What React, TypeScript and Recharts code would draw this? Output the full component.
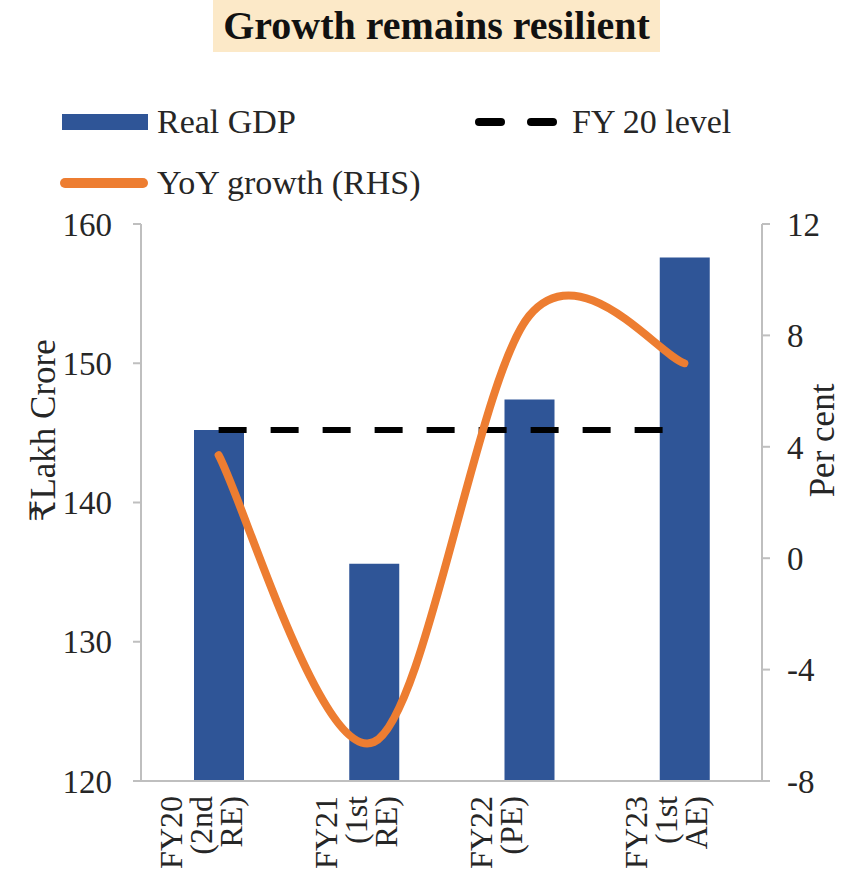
import React from "react";
import { ComposedChart, Bar, Line, XAxis, YAxis, Legend, Label } from "recharts";

const categories = ["FY20 (2nd RE)", "FY21 (1st RE)", "FY22 (PE)", "FY23 (1st AE)"];
const realGdp = [145.2, 135.6, 147.4, 157.6];
const fy20Level = [145.2, 145.2, 145.2, 145.2];
const yoyGrowth = [3.7, -6.6, 8.7, 7.0];
const leftTicks = [120, 130, 140, 150, 160];
const rightTicks = [-8, -4, 0, 4, 8, 12];

const data = categories.map((label, i) => ({
  label,
  gdp: realGdp[i],
  level: fy20Level[i],
  growth: yoyGrowth[i],
}));

const FONT = '"Liberation Serif", "DejaVu Serif", serif';
const TEXT = "#262626";
const AXIS = "#BFBFBF";
const BLUE = "#2F5597";
const ORANGE = "#ED7D31";

// Excel-style smoothed line (catmull-rom through the points)
function excelSmooth(context: any) {
  let pts: number[][] = [];
  return {
    areaStart() {},
    areaEnd() {},
    lineStart() {
      pts = [];
    },
    point(x: number, y: number) {
      pts.push([+x, +y]);
    },
    lineEnd() {
      if (!pts.length) return;
      context.moveTo(pts[0][0], pts[0][1]);
      for (let i = 0; i < pts.length - 1; i++) {
        const p0 = pts[i - 1] || pts[i];
        const p1 = pts[i];
        const p2 = pts[i + 1];
        const p3 = pts[i + 2] || p2;
        context.bezierCurveTo(
          p1[0] + (p2[0] - p0[0]) / 6,
          p1[1] + (p2[1] - p0[1]) / 6,
          p2[0] - (p3[0] - p1[0]) / 6,
          p2[1] - (p3[1] - p1[1]) / 6,
          p2[0],
          p2[1]
        );
      }
    },
  };
}

// multi-line rotated category labels
function CategoryTick({ x, y, payload }: any) {
  const lines = String(payload.value).split(" ");
  return (
    <g>
      {lines.map((ln, i) => (
        <text
          key={i}
          transform={`translate(${x - 37 + i * 30},${y}) rotate(-90)`}
          textAnchor="end"
          fontSize={32}
          fontFamily={FONT}
          fill={TEXT}
        >
          {ln}
        </text>
      ))}
    </g>
  );
}

const leftTitle = ({ viewBox }: any) => (
  <text
    transform={`translate(${viewBox.x + 43},${viewBox.y + viewBox.height / 2 - 72}) rotate(-90)`}
    textAnchor="middle"
    dominantBaseline="central"
    fontSize={35}
    fontFamily={FONT}
    fill={TEXT}
  >
    ₹Lakh Crore
  </text>
);

const rightTitle = ({ viewBox }: any) => (
  <text
    transform={`translate(${viewBox.x + 60},${viewBox.y + viewBox.height / 2 - 62}) rotate(-90)`}
    textAnchor="middle"
    dominantBaseline="central"
    fontSize={35}
    fontFamily={FONT}
    fill={TEXT}
  >
    Per cent
  </text>
);

function LegendBox() {
  const txt: React.CSSProperties = {
    position: "absolute",
    fontFamily: FONT,
    fontSize: 34,
    lineHeight: "40px",
    color: TEXT,
    whiteSpace: "nowrap",
  };
  return (
    <div style={{ position: "relative", width: 858, height: 220 }}>
      <div style={{ position: "absolute", left: 62, top: 114, width: 86, height: 16, background: BLUE }} />
      <div style={{ ...txt, left: 157, top: 102 }}>Real GDP</div>
      <div style={{ position: "absolute", left: 475, top: 118, width: 30, height: 8, borderRadius: 4, background: "#000" }} />
      <div style={{ position: "absolute", left: 527, top: 118, width: 30, height: 8, borderRadius: 4, background: "#000" }} />
      <div style={{ ...txt, left: 572, top: 102 }}>FY 20 level</div>
      <div style={{ position: "absolute", left: 60, top: 178, width: 88, height: 10, borderRadius: 5, background: ORANGE }} />
      <div style={{ ...txt, left: 157, top: 163 }}>YoY growth (RHS)</div>
    </div>
  );
}

export default function App() {
  return (
    <div style={{ position: "absolute", left: 0, top: 0, width: 858, height: 882, background: "#fff" }}>
      <div
        style={{
          position: "absolute",
          left: 213,
          top: 0,
          width: 447,
          height: 52,
          background: "#FCE9C8",
          fontFamily: FONT,
          fontWeight: "bold",
          fontSize: 40,
          lineHeight: "52px",
          textAlign: "center",
          color: "#111",
          zIndex: 2,
        }}
      >
        Growth remains resilient
      </div>
      <ComposedChart width={858} height={882} data={data} margin={{ top: 224, right: 0, bottom: 0, left: 0 }}>
        <XAxis
          dataKey="label"
          height={101}
          interval={0}
          tickLine={false}
          tickSize={0}
          tickMargin={15}
          axisLine={{ stroke: AXIS, strokeWidth: 2 }}
          tick={<CategoryTick />}
        />
        <YAxis
          yAxisId="left"
          width={141}
          domain={[120, 160]}
          ticks={leftTicks}
          tickSize={8}
          tickMargin={21}
          axisLine={{ stroke: AXIS, strokeWidth: 2 }}
          tickLine={{ stroke: AXIS, strokeWidth: 2 }}
          tick={{ fontSize: 33, fontFamily: FONT, fill: TEXT }}
        >
          <Label content={leftTitle} />
        </YAxis>
        <YAxis
          yAxisId="right"
          orientation="right"
          width={96}
          domain={[-8, 12]}
          ticks={rightTicks}
          tickSize={8}
          tickMargin={17}
          axisLine={{ stroke: AXIS, strokeWidth: 2 }}
          tickLine={{ stroke: AXIS, strokeWidth: 2 }}
          tick={{ fontSize: 33, fontFamily: FONT, fill: TEXT }}
        >
          <Label content={rightTitle} />
        </YAxis>
        <Legend
          content={<LegendBox />}
          layout="horizontal"
          verticalAlign="middle"
          align="center"
          wrapperStyle={{ top: 0, left: 0, width: 858, height: 0 }}
        />
        <Bar yAxisId="left" dataKey="gdp" name="Real GDP" fill={BLUE} barSize={50} isAnimationActive={false} />
        <Line
          yAxisId="left"
          dataKey="level"
          name="FY 20 level"
          type="linear"
          stroke="#000"
          strokeWidth={6}
          strokeDasharray="28 24"
          dot={false}
          activeDot={false}
          isAnimationActive={false}
        />
        <Line
          yAxisId="right"
          dataKey="growth"
          name="YoY growth (RHS)"
          type={excelSmooth as any}
          stroke={ORANGE}
          strokeWidth={8}
          strokeLinecap="round"
          dot={false}
          activeDot={false}
          isAnimationActive={false}
        />
      </ComposedChart>
    </div>
  );
}
